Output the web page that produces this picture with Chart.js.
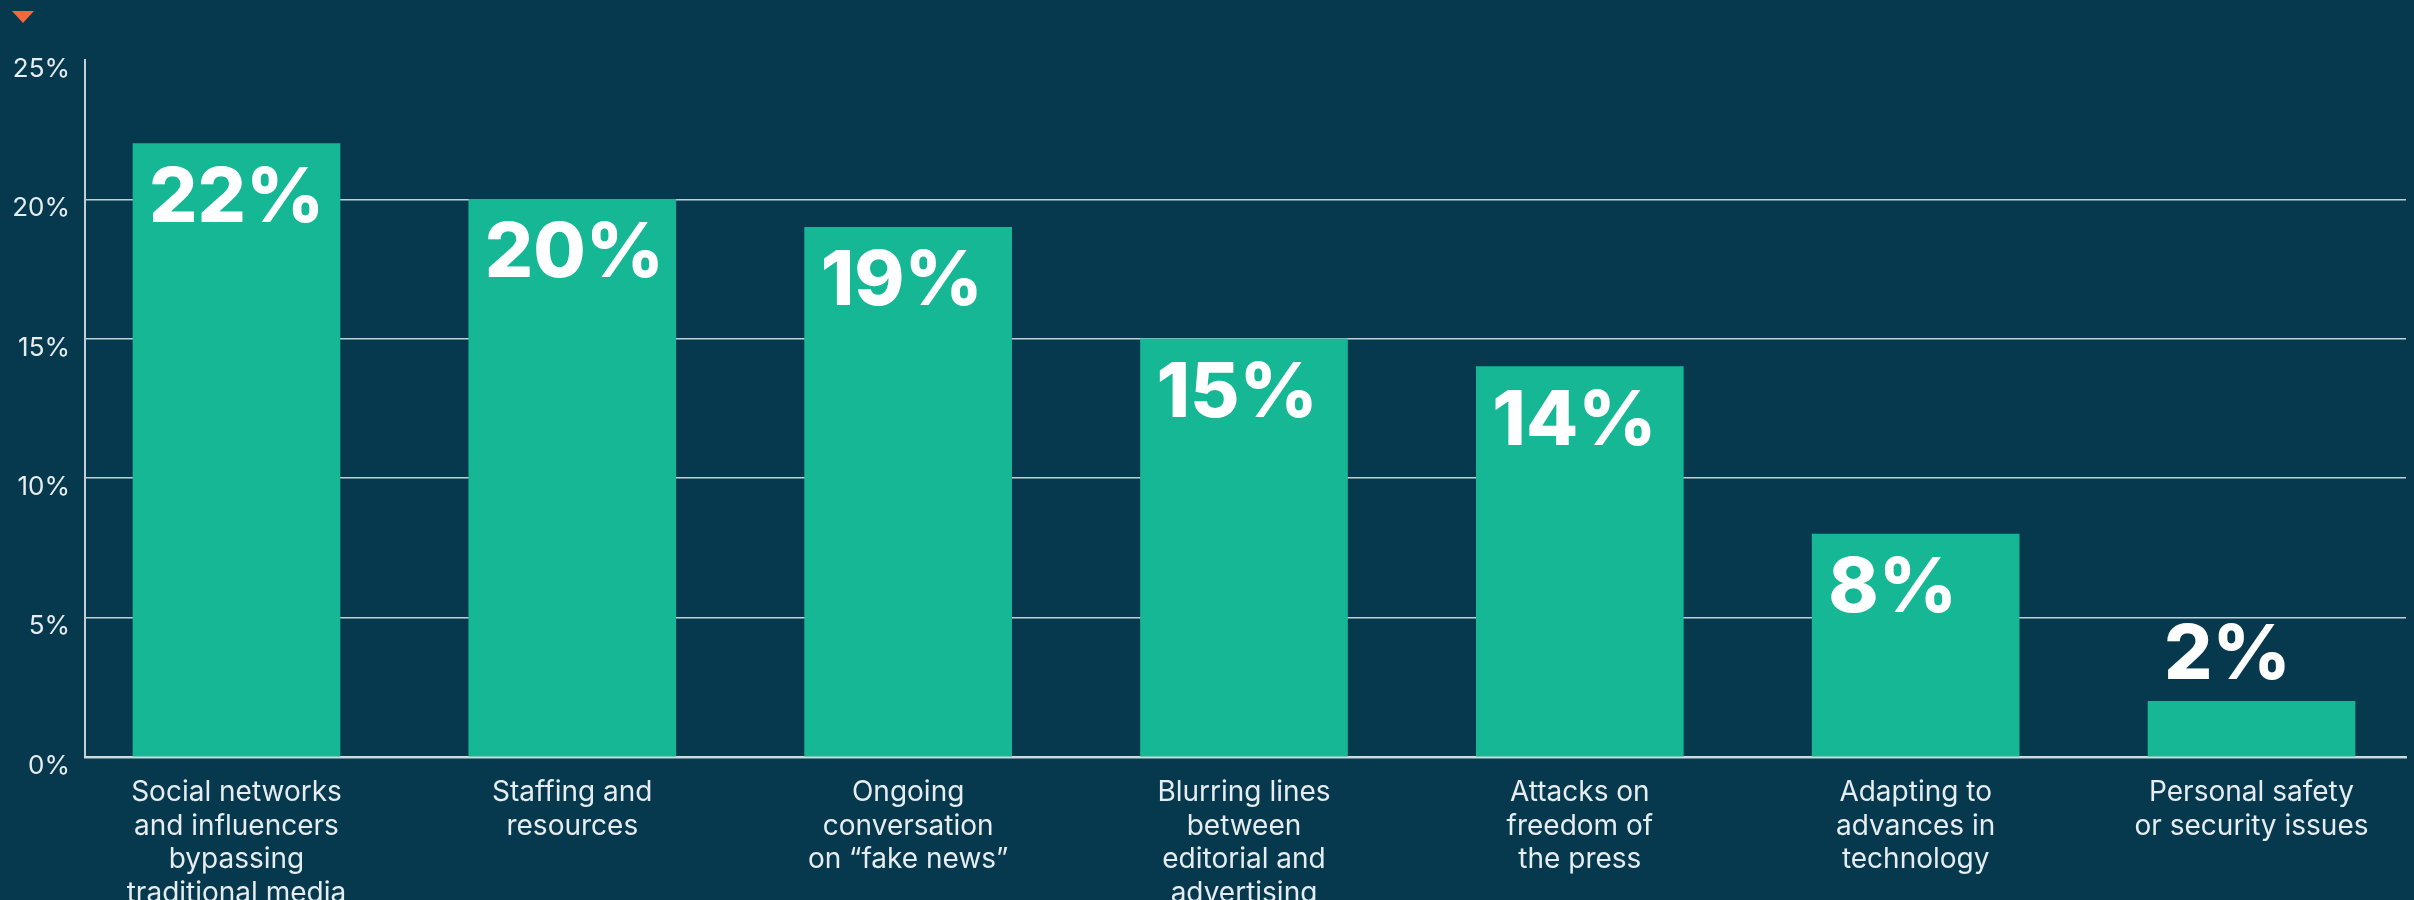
<!doctype html>
<html>
<head>
    <title>Challenges facing media</title>
    <script src="https://cdn.jsdelivr.net/npm/chart.js"></script>
    <style>
        html, body { margin: 0; padding: 0; background: #07394e; overflow: hidden; }
        #wrap { position: relative; width: 2414px; height: 900px; }
        #marker {
            position: absolute; left: 12px; top: 11px; width: 0; height: 0;
            border-left: 11px solid transparent; border-right: 11px solid transparent;
            border-top: 12px solid #f26a3b;
        }
    </style>
</head>
<body>
<div id="wrap">
    <canvas id="myChart"></canvas>
    <div id="marker"></div>
</div>

<script>
    var categories = [
        ['Social networks', 'and influencers', 'bypassing', 'traditional media'],
        ['Staffing and', 'resources'],
        ['Ongoing', 'conversation', 'on \u201cfake news\u201d'],
        ['Blurring lines', 'between', 'editorial and', 'advertising'],
        ['Attacks on', 'freedom of', 'the press'],
        ['Adapting to', 'advances in', 'technology'],
        ['Personal safety', 'or security issues']
    ];
    var values = [22, 20, 19, 15, 14, 8, 2];
    var yTicks = [0, 5, 10, 15, 20, 25];

    var textColor = '#e6edf0';
    var lineColor = 'rgba(214,225,230,0.9)';

    // big percentage labels on the bars
    var valueLabels = {
        id: 'valueLabels',
        afterDatasetsDraw: function (chart) {
            var c = chart.ctx;
            var meta = chart.getDatasetMeta(0);
            c.save();
            c.fillStyle = '#ffffff';
            c.font = '800 76px Inter';
            c.textAlign = 'left';
            c.textBaseline = 'alphabetic';
            meta.data.forEach(function (bar, i) {
                var left = bar.x - bar.width / 2 + 16;
                var h = bar.base - bar.y;
                var y = h > 110 ? bar.y + 78 : bar.y - 22;
                c.fillText(values[i] + '%', left, y);
            });
            c.restore();
        }
    };

    var ctx = document.getElementById('myChart').getContext('2d');
    var chart = new Chart(ctx, {
        type: 'bar',
        data: {
            datasets: [{
                data: values.map(function (v, i) { return { x: i, y: v }; }),
                backgroundColor: '#15b794',
                barThickness: 207,
                borderWidth: 0
            }]
        },
        options: {
            responsive: true,
            maintainAspectRatio: false,
            devicePixelRatio: 1,
            animation: false,
            layout: { padding: { top: 60, right: 8, left: 0, bottom: 0 } },
            plugins: { legend: { display: false }, tooltip: { enabled: false } },
            scales: {
                x: {
                    type: 'linear',
                    offset: false,
                    min: -0.451,
                    max: 6.46,
                    afterBuildTicks: function (axis) {
                        axis.ticks = categories.map(function (_, i) { return { value: i }; });
                    },
                    afterFit: function (axis) { axis.height = 143; },
                    grid: { display: false, drawTicks: false, offset: false },
                    border: { display: true, color: lineColor, width: 2.5 },
                    ticks: {
                        autoSkip: false,
                        maxRotation: 0,
                        padding: 19,
                        color: textColor,
                        font: { family: 'Inter', size: 28, lineHeight: 1.2 },
                        callback: function (v) { return categories[v]; }
                    }
                },
                y: {
                    min: 0,
                    max: 25,
                    afterBuildTicks: function (axis) {
                        axis.ticks = yTicks.map(function (v) { return { value: v }; });
                    },
                    afterFit: function (axis) { axis.width = 85; },
                    grid: {
                        drawTicks: false,
                        lineWidth: 1.5,
                        color: function (c) { return c.tick && c.tick.value === 25 ? 'rgba(0,0,0,0)' : lineColor; }
                    },
                    border: { display: true, color: lineColor, width: 2 },
                    ticks: {
                        padding: 15,
                        labelOffset: 9,
                        color: textColor,
                        font: { family: 'Inter', size: 26 },
                        callback: function (v) { return v + '%'; }
                    }
                }
            }
        },
        plugins: [valueLabels]
    });
</script>
</body>
</html>
